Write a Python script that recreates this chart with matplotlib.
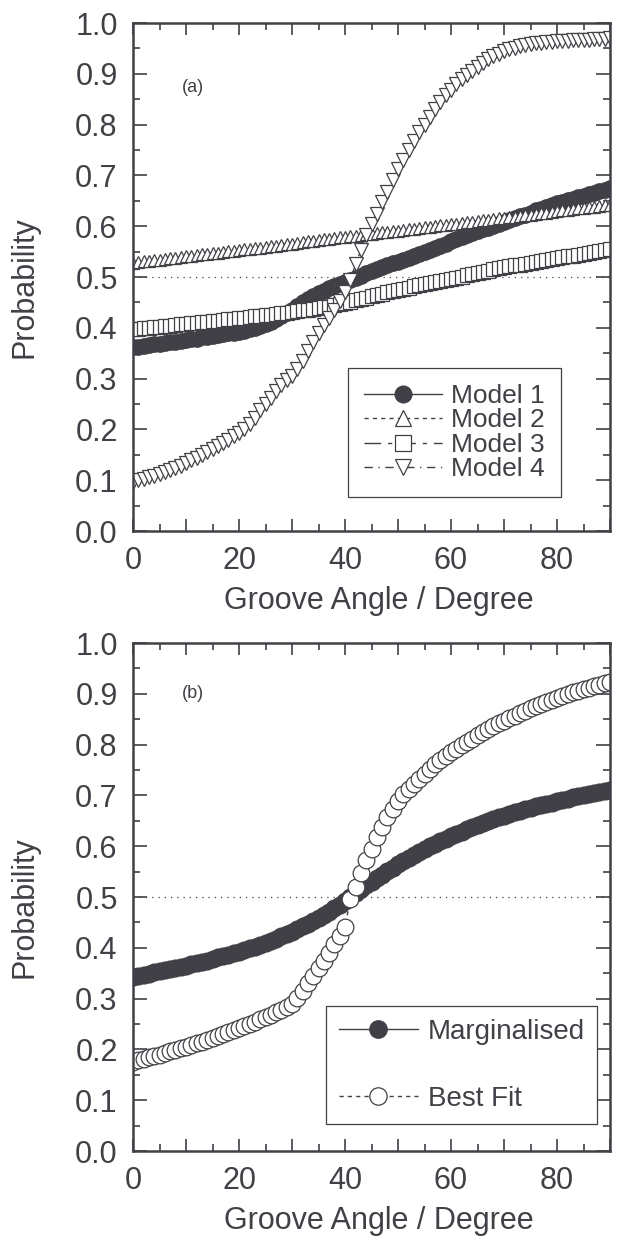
import numpy as np
import matplotlib.pyplot as plt
from matplotlib.ticker import MultipleLocator, FuncFormatter

plt.rcParams['font.family'] = ['Liberation Sans', 'DejaVu Sans']

ink = '#414046'

# groove angle, one point per degree
angle = list(range(0, 91))

# panel (a)
model1 = [0.362, 0.363, 0.365, 0.366, 0.368, 0.369, 0.370, 0.372, 0.373, 0.375,
          0.376, 0.378, 0.379, 0.381, 0.382, 0.384, 0.386, 0.387, 0.389, 0.390,
          0.392, 0.394, 0.397, 0.400, 0.403, 0.407, 0.412, 0.418, 0.424, 0.430,
          0.436, 0.443, 0.450, 0.456, 0.462, 0.468, 0.473, 0.478, 0.483, 0.487,
          0.491, 0.495, 0.499, 0.503, 0.507, 0.511, 0.515, 0.519, 0.523, 0.527,
          0.530, 0.534, 0.538, 0.542, 0.546, 0.550, 0.554, 0.558, 0.562, 0.566,
          0.570, 0.574, 0.578, 0.582, 0.586, 0.590, 0.594, 0.597, 0.601, 0.605,
          0.609, 0.612, 0.616, 0.620, 0.623, 0.627, 0.631, 0.634, 0.638, 0.641,
          0.645, 0.648, 0.651, 0.654, 0.657, 0.660, 0.663, 0.666, 0.669, 0.672,
          0.675]
model2 = [0.528, 0.529, 0.531, 0.532, 0.533, 0.534, 0.536, 0.537, 0.538, 0.539,
          0.541, 0.542, 0.543, 0.545, 0.546, 0.547, 0.548, 0.550, 0.551, 0.552,
          0.553, 0.555, 0.556, 0.557, 0.558, 0.560, 0.561, 0.562, 0.564, 0.565,
          0.566, 0.567, 0.569, 0.570, 0.571, 0.572, 0.574, 0.575, 0.576, 0.578,
          0.579, 0.580, 0.581, 0.583, 0.584, 0.585, 0.586, 0.588, 0.589, 0.590,
          0.591, 0.593, 0.594, 0.595, 0.597, 0.598, 0.599, 0.600, 0.602, 0.603,
          0.604, 0.605, 0.607, 0.608, 0.609, 0.611, 0.612, 0.613, 0.614, 0.616,
          0.617, 0.618, 0.619, 0.621, 0.622, 0.623, 0.624, 0.626, 0.627, 0.628,
          0.630, 0.631, 0.632, 0.633, 0.635, 0.636, 0.637, 0.638, 0.640, 0.641,
          0.642]
model3 = [0.397, 0.398, 0.399, 0.400, 0.401, 0.402, 0.403, 0.404, 0.406, 0.407,
          0.408, 0.409, 0.410, 0.411, 0.412, 0.413, 0.414, 0.415, 0.417, 0.418,
          0.419, 0.420, 0.421, 0.423, 0.424, 0.425, 0.426, 0.428, 0.429, 0.430,
          0.432, 0.433, 0.435, 0.436, 0.438, 0.439, 0.441, 0.442, 0.444, 0.446,
          0.448, 0.451, 0.454, 0.457, 0.459, 0.462, 0.465, 0.467, 0.470, 0.472,
          0.475, 0.477, 0.479, 0.482, 0.484, 0.486, 0.488, 0.490, 0.493, 0.495,
          0.497, 0.499, 0.501, 0.504, 0.506, 0.508, 0.510, 0.512, 0.515, 0.517,
          0.519, 0.521, 0.523, 0.524, 0.526, 0.528, 0.530, 0.532, 0.533, 0.535,
          0.537, 0.539, 0.541, 0.542, 0.544, 0.546, 0.548, 0.550, 0.551, 0.553,
          0.555]
model4 = [0.097, 0.100, 0.103, 0.106, 0.109, 0.113, 0.116, 0.120, 0.124, 0.129,
          0.134, 0.139, 0.144, 0.150, 0.156, 0.162, 0.168, 0.174, 0.180, 0.187,
          0.193, 0.200, 0.210, 0.222, 0.238, 0.250, 0.262, 0.275, 0.287, 0.298,
          0.306, 0.318, 0.335, 0.355, 0.372, 0.390, 0.405, 0.420, 0.435, 0.452,
          0.470, 0.495, 0.525, 0.553, 0.582, 0.605, 0.625, 0.647, 0.667, 0.692,
          0.712, 0.730, 0.750, 0.768, 0.786, 0.800, 0.815, 0.830, 0.845, 0.858,
          0.869, 0.880, 0.889, 0.897, 0.905, 0.913, 0.921, 0.929, 0.935, 0.940,
          0.944, 0.948, 0.951, 0.954, 0.956, 0.958, 0.960, 0.961, 0.962, 0.963,
          0.964, 0.965, 0.965, 0.966, 0.966, 0.967, 0.967, 0.968, 0.968, 0.969,
          0.970]

# panel (b)
marginalised = [0.343, 0.345, 0.347, 0.349, 0.352, 0.354, 0.356, 0.358, 0.360, 0.363,
                0.365, 0.368, 0.370, 0.373, 0.375, 0.378, 0.381, 0.383, 0.386, 0.389,
                0.392, 0.395, 0.399, 0.402, 0.406, 0.410, 0.414, 0.418, 0.423, 0.427,
                0.432, 0.437, 0.442, 0.447, 0.452, 0.458, 0.464, 0.471, 0.478, 0.485,
                0.492, 0.500, 0.508, 0.515, 0.523, 0.530, 0.537, 0.544, 0.551, 0.558,
                0.565, 0.571, 0.577, 0.583, 0.589, 0.595, 0.600, 0.605, 0.610, 0.615,
                0.620, 0.625, 0.629, 0.634, 0.638, 0.642, 0.646, 0.650, 0.653, 0.657,
                0.660, 0.663, 0.667, 0.670, 0.673, 0.676, 0.679, 0.681, 0.684, 0.686,
                0.689, 0.691, 0.693, 0.696, 0.698, 0.700, 0.702, 0.704, 0.706, 0.708,
                0.710]
best_fit = [0.176, 0.179, 0.182, 0.185, 0.188, 0.190, 0.193, 0.196, 0.199, 0.202,
            0.205, 0.208, 0.212, 0.215, 0.219, 0.222, 0.226, 0.230, 0.234, 0.238,
            0.242, 0.246, 0.250, 0.254, 0.259, 0.263, 0.268, 0.273, 0.278, 0.283,
            0.290, 0.302, 0.315, 0.330, 0.345, 0.360, 0.375, 0.390, 0.407, 0.424,
            0.441, 0.496, 0.520, 0.548, 0.572, 0.595, 0.618, 0.638, 0.657, 0.674,
            0.690, 0.702, 0.712, 0.723, 0.733, 0.743, 0.753, 0.762, 0.770, 0.778,
            0.785, 0.792, 0.799, 0.805, 0.812, 0.818, 0.824, 0.830, 0.836, 0.842,
            0.847, 0.852, 0.857, 0.862, 0.867, 0.872, 0.876, 0.880, 0.884, 0.888,
            0.892, 0.896, 0.899, 0.903, 0.906, 0.909, 0.912, 0.915, 0.918, 0.921,
            0.924]

fig = plt.figure(figsize=(6.25, 12.39), dpi=100)
ax_a = fig.add_axes([0.2128, 0.5714, 0.7632, 0.41])
ax_b = fig.add_axes([0.2128, 0.0710, 0.7632, 0.41])


def style_axes(ax):
    ax.set_xlim(0, 90)
    ax.set_ylim(0, 1.0)
    ax.xaxis.set_major_locator(MultipleLocator(10))
    ax.xaxis.set_minor_locator(MultipleLocator(5))
    ax.xaxis.set_major_formatter(FuncFormatter(lambda v, p: '%d' % v if int(round(v)) % 20 == 0 else ''))
    ax.yaxis.set_major_locator(MultipleLocator(0.1))
    ax.yaxis.set_minor_locator(MultipleLocator(0.05))
    ax.yaxis.set_major_formatter(FuncFormatter(lambda v, p: '%.1f' % v))
    ax.tick_params(which='both', direction='in', top=True, right=True,
                   color=ink, labelcolor=ink, width=1.2, labelsize=22, pad=11)
    ax.tick_params(axis='y', which='major', length=10)
    ax.tick_params(axis='x', which='major', length=8.5)
    ax.tick_params(which='minor', length=5)
    for s in ax.spines.values():
        s.set_linewidth(1.8)
        s.set_color(ink)
    ax.axhline(0.5, color=ink, lw=0.9, ls=(0, (1, 4)), zorder=1)
    ax.set_xlabel('Groove Angle / Degree', fontsize=22, color=ink)
    ax.set_ylabel('Probability', fontsize=22, color=ink)
    ax.xaxis.set_label_coords(0.515, -0.108)
    ax.yaxis.set_label_coords(-0.195, 0.48)


style_axes(ax_a)
ax_a.plot(angle, model1, '-', color=ink, lw=1, marker='o', ms=11,
          mfc=ink, mec=ink, label='Model 1')
ax_a.plot(angle, model2, ls=(0, (3, 3)), color=ink, lw=1, marker='^', ms=8.5,
          mfc='white', mec=ink, mew=0.9, label='Model 2')
ax_a.plot(angle, model3, ls=(0, (12, 5, 3, 5)), color=ink, lw=1, marker='s', ms=9.5,
          mfc='white', mec=ink, mew=0.9, label='Model 3')
ax_a.plot(angle, model4, ls=(0, (6, 4, 1, 4)), color=ink, lw=1, marker='v', ms=10,
          mfc='white', mec=ink, mew=0.9, label='Model 4')
ax_a.text(9.2, 0.874, '(a)', fontsize=13, color=ink, va='center')
leg_a = ax_a.legend(loc='upper left', bbox_to_anchor=(0.451, 0.321), borderaxespad=0,
                    fontsize=19, handlelength=2.95, handletextpad=0.35, labelspacing=0.02,
                    borderpad=0.6, fancybox=False, framealpha=1, edgecolor=ink,
                    labelcolor=ink)
leg_a.get_frame().set_linewidth(0.9)
for h in leg_a.legend_handles:
    h.set_markersize(12)

style_axes(ax_b)
ax_b.plot(angle, marginalised, '-', color=ink, lw=1, marker='o', ms=12,
          mfc=ink, mec=ink, label='Marginalised')
ax_b.plot(angle, best_fit, ls=(0, (3, 3)), color=ink, lw=1, marker='o', ms=12,
          mfc='white', mec=ink, mew=0.9, label='Best Fit')
ax_b.text(9.2, 0.90, '(b)', fontsize=13, color=ink, va='center')
leg_b = ax_b.legend(loc='upper left', bbox_to_anchor=(0.405, 0.285), borderaxespad=0,
                    fontsize=20, handlelength=2.85, handletextpad=0.35, labelspacing=1.48,
                    borderpad=0.45, fancybox=False, framealpha=1, edgecolor=ink,
                    labelcolor=ink)
leg_b.get_frame().set_linewidth(0.9)
for h in leg_b.legend_handles:
    h.set_markersize(12.5)

fig.savefig('out.png', dpi=100)
